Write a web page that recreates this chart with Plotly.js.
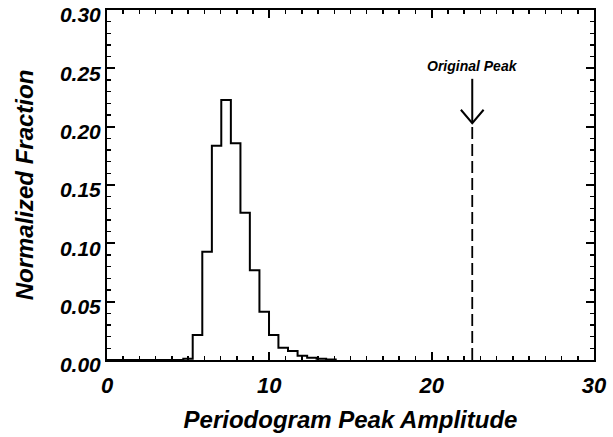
<!DOCTYPE html>
<html>
<head>
<meta charset="utf-8">
<script src="https://cdn.plot.ly/plotly-3.0.1.min.js"></script>
<style>html,body{margin:0;padding:0;background:#fff;}#chart{width:613px;height:437px;}</style>
</head>
<body>
<div id="chart"></div>
<script>
// Histogram bin edges (left edges) and normalized fractions
const binEdges = [0, 4.70, 5.28, 5.87, 6.46, 7.04, 7.63, 8.22, 8.80, 9.39, 9.98, 10.56, 11.15, 11.74, 12.33, 12.91, 13.50, 14.09];
const fractions = [0, 0.001, 0.0214, 0.0928, 0.1837, 0.2229, 0.1857, 0.1263, 0.0769, 0.0414, 0.0214, 0.0106, 0.0077, 0.0037, 0.0020, 0.0010, 0.0005, 0];
const originalPeak = 22.5;
const arrowTop = 0.241;
const arrowTip = 0.203;
const labelY = 0.252;
const xTickVals = [0, 10, 20, 30];
const xTickText = ['0', '10', '20', '30'];
const yTickVals = [0.00, 0.05, 0.10, 0.15, 0.20, 0.25, 0.30];
const yTickText = ['0.00', '0.05', '0.10', '0.15', '0.20', '0.25', '0.30'];

const fontFam = '"Liberation Sans", Arial, Helvetica, sans-serif';
const bi = (size) => ({family: fontFam, size: size, color: '#000', weight: 'bold', style: 'italic'});

const hist = {
  x: binEdges, y: fractions, type: 'scatter', mode: 'lines',
  line: {shape: 'hv', color: '#000', width: 2}, hoverinfo: 'skip', showlegend: false
};

const headDx = 0.7, headDy = 0.0115;
const layout = {
  width: 613, height: 437,
  margin: {l: 107, r: 19, t: 10, b: 77},
  paper_bgcolor: '#fff', plot_bgcolor: '#fff',
  showlegend: false,
  xaxis: {
    range: [0, 30], tickvals: xTickVals, ticktext: xTickText,
    ticks: 'inside', ticklen: 8, tickwidth: 2, tickcolor: '#000',
    minor: {dtick: 1, tick0: 0, ticks: 'inside', ticklen: 4, tickwidth: 1.5, tickcolor: '#000', showgrid: false},
    showline: true, linewidth: 2, linecolor: '#000', mirror: 'ticks',
    showgrid: false, zeroline: false, tickfont: bi(22),
    ticklabelstandoff: 5, ticklabeloverflow: 'allow',
    title: {text: 'Periodogram Peak Amplitude', font: bi(24), standoff: 14}
  },
  yaxis: {
    range: [0, 0.30], tickvals: yTickVals, ticktext: yTickText,
    ticks: 'inside', ticklen: 8, tickwidth: 2, tickcolor: '#000',
    minor: {dtick: 0.01, tick0: 0, ticks: 'inside', ticklen: 4, tickwidth: 1.5, tickcolor: '#000', showgrid: false},
    showline: true, linewidth: 2, linecolor: '#000', mirror: 'ticks',
    showgrid: false, zeroline: false, tickfont: bi(21),
    ticklabeloverflow: 'allow', ticklabelshift: 5,
    title: {text: 'Normalized Fraction', font: bi(24), standoff: 20}
  },
  shapes: [
    {type: 'line', xref: 'x', yref: 'y', x0: originalPeak, x1: originalPeak, y0: 0, y1: arrowTip - 0.002,
     line: {color: '#000', width: 1.8, dash: '12px,5px'}},
    {type: 'line', xref: 'x', yref: 'y', x0: originalPeak, x1: originalPeak, y0: arrowTip, y1: arrowTop,
     line: {color: '#000', width: 2}},
    {type: 'path', xref: 'x', yref: 'y',
     path: 'M ' + (originalPeak - headDx) + ',' + (arrowTip + headDy) + ' L ' + originalPeak + ',' + arrowTip + ' L ' + (originalPeak + headDx) + ',' + (arrowTip + headDy),
     line: {color: '#000', width: 2}}
  ],
  annotations: [
    {x: originalPeak, y: labelY, xref: 'x', yref: 'y', text: 'Original Peak', showarrow: false,
     font: bi(14), xanchor: 'center', yanchor: 'middle'}
  ]
};

Plotly.newPlot('chart', [hist], layout, {displayModeBar: false, staticPlot: true});
</script>
</body>
</html>
